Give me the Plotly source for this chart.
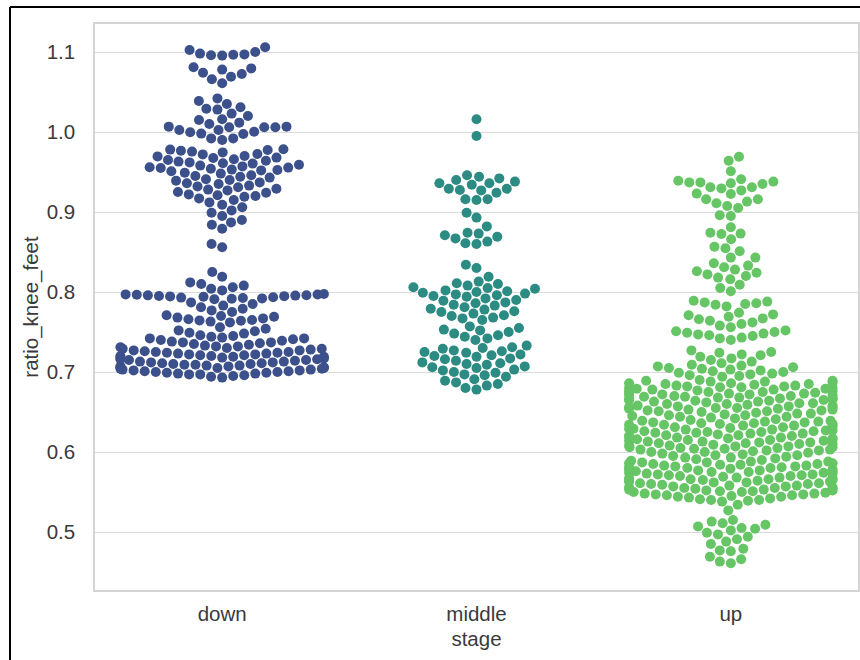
import numpy as np
import plotly.graph_objects as go

# ---- data ---------------------------------------------------------------
stages = ["down", "middle", "up"]

down_stage = [
    1.0955, 1.096, 1.0965, 1.097, 1.098, 1.100, 1.1025, 1.106,
    1.061, 1.066, 1.069, 1.0725, 1.074, 1.078, 1.0795, 1.081,
    1.035, 1.0388, 1.042,
    1.020, 1.023, 1.028, 1.029, 1.031,
    1.016, 1.015, 1.0117, 1.010, 1.0067, 1.0067, 1.006, 1.006, 1.006,
    1.0025, 1.0025, 1.0004, 0.9996, 0.998, 0.9975, 0.992, 0.992, 0.990,
    0.9784, 0.978, 0.9775, 0.9765, 0.9755, 0.9745, 0.9725, 0.972, 0.970,
    0.9695, 0.968, 0.9675, 0.966, 0.965, 0.964, 0.963, 0.962, 0.961,
    0.9605, 0.959, 0.958, 0.957, 0.956, 0.9555, 0.955, 0.954, 0.953,
    0.9525, 0.952, 0.951,
    0.949, 0.948, 0.946, 0.945, 0.944, 0.943, 0.941, 0.940, 0.939, 0.937,
    0.936, 0.935, 0.933, 0.932, 0.931, 0.929, 0.928, 0.927, 0.925, 0.924,
    0.922, 0.921, 0.920, 0.919,
    0.917, 0.915, 0.912, 0.909, 0.906, 0.902, 0.899, 0.895,
    0.890, 0.887, 0.884, 0.879,
    0.860, 0.856,
    0.825, 0.819,
    0.812, 0.810, 0.808, 0.806, 0.804, 0.802,
    0.7975, 0.797, 0.7968, 0.7965, 0.796, 0.7958, 0.7955, 0.795, 0.7948,
    0.7945, 0.794, 0.7935, 0.793, 0.7925, 0.792, 0.7915, 0.791,
    0.787, 0.785, 0.783, 0.781, 0.779, 0.777, 0.775,
    0.771, 0.770, 0.769, 0.768, 0.767, 0.766, 0.765, 0.7645, 0.764, 0.763, 0.762,
    0.756, 0.754, 0.752, 0.751, 0.749, 0.748, 0.746,
    0.745, 0.744, 0.743, 0.742, 0.742, 0.741, 0.740, 0.739, 0.738, 0.737,
    0.737, 0.736,
    0.735, 0.734, 0.733, 0.732, 0.732, 0.731, 0.730, 0.729, 0.729, 0.728,
    0.727, 0.727, 0.726, 0.725, 0.725, 0.724, 0.724,
    0.723, 0.723, 0.722, 0.722, 0.721, 0.721, 0.720, 0.720, 0.719, 0.719,
    0.718, 0.718, 0.717, 0.716, 0.716, 0.715, 0.715, 0.714, 0.713, 0.713,
    0.712, 0.712,
    0.711, 0.711, 0.710, 0.710, 0.709, 0.709, 0.708, 0.708, 0.707, 0.707,
    0.706, 0.706, 0.705, 0.705, 0.704, 0.704, 0.703, 0.703, 0.702, 0.702,
    0.701, 0.701, 0.700, 0.700, 0.699, 0.699, 0.698, 0.698, 0.697, 0.697,
    0.696, 0.695, 0.694, 0.693,
]

middle_stage = [
    1.016, 0.995,
    0.946, 0.944, 0.942, 0.940, 0.938, 0.936, 0.936, 0.934, 0.929, 0.929,
    0.9275, 0.927, 0.924, 0.916, 0.916, 0.915,
    0.899, 0.893, 0.882,
    0.874, 0.873, 0.871, 0.869, 0.867, 0.863, 0.861, 0.860,
    0.834, 0.830, 0.819,
    0.813, 0.811, 0.810, 0.808, 0.806, 0.805, 0.804, 0.802,
    0.801, 0.800, 0.799, 0.798, 0.797, 0.796, 0.795, 0.794, 0.792, 0.790,
    0.789, 0.787, 0.786, 0.784, 0.783, 0.781, 0.779, 0.778, 0.776, 0.775,
    0.773, 0.771, 0.770, 0.768, 0.767, 0.765,
    0.757, 0.755, 0.753, 0.752, 0.750, 0.748, 0.746, 0.744, 0.742, 0.740,
    0.733, 0.731, 0.730, 0.729, 0.727, 0.726, 0.725, 0.724, 0.722, 0.721,
    0.720, 0.719, 0.717, 0.716, 0.714,
    0.712, 0.711, 0.710, 0.709, 0.707, 0.706, 0.705, 0.703, 0.702, 0.700,
    0.699, 0.697, 0.696, 0.694,
    0.691, 0.689, 0.687, 0.685, 0.683, 0.680, 0.678,
]

up_stage = [
    0.969, 0.964, 0.951,
    0.941, 0.939, 0.938, 0.937, 0.937, 0.936, 0.935, 0.931, 0.931, 0.9295,
    0.927, 0.923,
    0.9225, 0.916, 0.916, 0.913, 0.911, 0.9075, 0.905,
    0.896, 0.895,
    0.881, 0.874, 0.873, 0.8725, 0.866,
    0.8567, 0.8546, 0.851, 0.843, 0.843,
    0.836, 0.833, 0.831, 0.828, 0.826, 0.824, 0.822, 0.820, 0.818, 0.816,
    0.809, 0.805, 0.801,
    0.789, 0.788, 0.787, 0.786, 0.785, 0.784, 0.782,
    0.774, 0.772, 0.771, 0.769, 0.767, 0.766, 0.764, 0.762, 0.760, 0.758, 0.756,
    0.752, 0.751, 0.750, 0.749, 0.748, 0.747, 0.746, 0.745, 0.743, 0.742, 0.740,
    0.727, 0.725, 0.724, 0.722, 0.721, 0.719, 0.717, 0.715, 0.713, 0.711,
    0.709, 0.708, 0.707, 0.706, 0.705, 0.704, 0.703, 0.702, 0.701, 0.700,
    0.699, 0.698, 0.697, 0.696, 0.695, 0.694,
    0.690, 0.689, 0.689, 0.688, 0.688, 0.687, 0.686, 0.686, 0.685, 0.685,
    0.684, 0.683, 0.683, 0.682, 0.682, 0.681, 0.681, 0.680, 0.680,
    0.679, 0.679, 0.678, 0.678, 0.677, 0.676, 0.676, 0.675, 0.675, 0.674,
    0.673, 0.673, 0.672, 0.672, 0.671, 0.671, 0.670, 0.670, 0.674,
    0.669, 0.669, 0.668, 0.667, 0.667, 0.666, 0.666, 0.665, 0.664, 0.664,
    0.663, 0.663, 0.662, 0.661, 0.661, 0.660, 0.660, 0.665, 0.668,
    0.659, 0.658, 0.658, 0.657, 0.656, 0.656, 0.655, 0.654, 0.654, 0.653,
    0.652, 0.652, 0.651, 0.651, 0.650, 0.655, 0.657, 0.653,
    0.649, 0.648, 0.647, 0.646, 0.645, 0.644, 0.643, 0.642, 0.641, 0.646,
    0.644, 0.648,
    0.640, 0.639, 0.639, 0.638, 0.637, 0.637, 0.636, 0.635, 0.635, 0.634,
    0.633, 0.633, 0.632, 0.631, 0.631, 0.630, 0.636, 0.638, 0.634,
    0.629, 0.629, 0.628, 0.627, 0.627, 0.626, 0.625, 0.625, 0.624, 0.623,
    0.623, 0.622, 0.621, 0.621, 0.620, 0.620, 0.626, 0.628, 0.624,
    0.619, 0.618, 0.618, 0.617, 0.616, 0.616, 0.615, 0.614, 0.614, 0.613,
    0.612, 0.612, 0.611, 0.611, 0.610, 0.610, 0.615, 0.617, 0.613,
    0.609, 0.608, 0.608, 0.607, 0.606, 0.606, 0.605, 0.604, 0.604, 0.603,
    0.602, 0.602, 0.601, 0.600, 0.600, 0.605, 0.607, 0.603,
    0.599, 0.598, 0.597, 0.596, 0.595, 0.594, 0.593, 0.592, 0.591, 0.590,
    0.596, 0.593,
    0.589, 0.588, 0.588, 0.587, 0.586, 0.586, 0.585, 0.584, 0.584, 0.583,
    0.582, 0.582, 0.581, 0.581, 0.580, 0.580, 0.585, 0.587, 0.583,
    0.579, 0.578, 0.578, 0.577, 0.576, 0.576, 0.575, 0.574, 0.574, 0.573,
    0.572, 0.572, 0.571, 0.571, 0.570, 0.570, 0.575, 0.577, 0.573,
    0.569, 0.568, 0.568, 0.567, 0.566, 0.566, 0.565, 0.564, 0.564, 0.563,
    0.562, 0.562, 0.561, 0.561, 0.560, 0.560, 0.565, 0.567, 0.563,
    0.559, 0.558, 0.558, 0.557, 0.556, 0.556, 0.555, 0.554, 0.554, 0.553,
    0.552, 0.552, 0.551, 0.551, 0.550, 0.550, 0.555, 0.557, 0.553,
    0.549, 0.548, 0.548, 0.547, 0.546, 0.546, 0.545, 0.544, 0.543, 0.542,
    0.541, 0.540, 0.540, 0.539, 0.538, 0.544, 0.547,
    0.534, 0.527,
    0.515, 0.513, 0.511, 0.509, 0.507, 0.505, 0.504, 0.502,
    0.499, 0.497, 0.494, 0.491, 0.488, 0.485,
    0.479, 0.477, 0.476,
    0.469, 0.466, 0.463, 0.461,
]

stage_values = [down_stage, middle_stage, up_stage]
stage_colors = ["#3c508b", "#2c8b83", "#66c564"]

y_ticks = [0.5, 0.6, 0.7, 0.8, 0.9, 1.0, 1.1]
y_range = [0.4275, 1.135]

# ---- geometry -----------------------------------------------------------
W, H = 860, 660
MARGIN = dict(l=95, r=2, t=24, b=70)
plot_w = W - MARGIN["l"] - MARGIN["r"]
plot_h = H - MARGIN["t"] - MARGIN["b"]
px_per_cat = plot_w / 3.0
px_per_val = plot_h / (y_range[1] - y_range[0])

DOT = 10           # drawn marker diameter (px)
RADIUS = 5.3       # collision radius used by the swarm layout (px)
SWARM_WIDTH = 0.8  # fraction of a category slot the swarm may occupy


def swarm_offsets(values):
    """Beeswarm layout: points are placed in ascending order at the
    position nearest the category centre that does not overlap any
    earlier point; anything spilling past the slot width is pinned to
    the edge."""
    vals = np.asarray(values, dtype=float)
    order = np.argsort(vals, kind="mergesort")
    ys = vals[order] * px_per_val
    px, py = [], []
    sep = 2 * RADIUS
    for y in ys:
        nbrs = []
        for j in range(len(py) - 1, -1, -1):
            if y - py[j] < sep:
                nbrs.append((px[j], py[j]))
            else:
                break
        cands = [0.0]
        left_first = True
        for xj, yj in nbrs:
            dx = np.sqrt(max(sep ** 2 - (y - yj) ** 2, 0.0)) * 1.05
            pair = [xj - dx, xj + dx] if left_first else [xj + dx, xj - dx]
            cands.extend(pair)
            left_first = not left_first
        cands = np.array(cands)
        cands = cands[np.argsort(np.abs(cands), kind="stable")]
        if nbrs:
            nx = np.array([n[0] for n in nbrs])
            ny = np.array([n[1] for n in nbrs])
            chosen = cands[-1]
            for c in cands:
                if np.all((c - nx) ** 2 + (y - ny) ** 2 >= sep ** 2 - 1e-9):
                    chosen = c
                    break
        else:
            chosen = 0.0
        px.append(chosen)
        py.append(y)
    half = SWARM_WIDTH / 2 * px_per_cat
    xs = np.clip(np.array(px), -half, half)
    out = np.empty(len(vals))
    out[order] = xs / px_per_cat
    return out


# ---- figure -------------------------------------------------------------
fig = go.Figure()
for i, (name, vals, col) in enumerate(zip(stages, stage_values, stage_colors)):
    offs = swarm_offsets(vals)
    fig.add_trace(go.Scatter(
        x=i + offs, y=vals, mode="markers", name=name,
        marker=dict(size=DOT, color=col, line=dict(width=0)),
        showlegend=False, hoverinfo="y",
    ))

font = dict(family="Liberation Sans, Arial, sans-serif", size=20.5, color="#3a3a3a")

fig.update_layout(
    width=W, height=H, margin=MARGIN,
    paper_bgcolor="white", plot_bgcolor="white",
    font=font,
    xaxis=dict(
        range=[-0.5, 2.5], tickvals=[0, 1, 2], ticktext=stages,
        showgrid=False, zeroline=False, ticks="",
        showline=True, mirror=True, linecolor="#d4d4d4", linewidth=1.5,
        ticklabelstandoff=5, automargin=False,
        title=dict(text="stage", standoff=7, font=font),
    ),
    yaxis=dict(
        range=y_range, tickvals=y_ticks, tickformat=".1f",
        showgrid=True, gridcolor="#dcdcdc", gridwidth=1.2,
        zeroline=False, ticks="",
        showline=True, mirror=True, linecolor="#d4d4d4", linewidth=1.5,
        ticklabelstandoff=14, automargin=False,
        title=dict(text="ratio_knee_feet", standoff=2, font=font),
    ),
    shapes=[
        dict(type="line", xref="paper", yref="paper",
             x0=(10 - MARGIN["l"]) / plot_w, x1=(10 - MARGIN["l"]) / plot_w,
             y0=-MARGIN["b"] / plot_h, y1=1 + 17 / plot_h,
             line=dict(color="black", width=2)),
        dict(type="line", xref="paper", yref="paper",
             x0=(10 - MARGIN["l"]) / plot_w, x1=(W - MARGIN["l"]) / plot_w,
             y0=1 + 17 / plot_h, y1=1 + 17 / plot_h,
             line=dict(color="black", width=2)),
    ],
)

fig.write_html("out.html")
